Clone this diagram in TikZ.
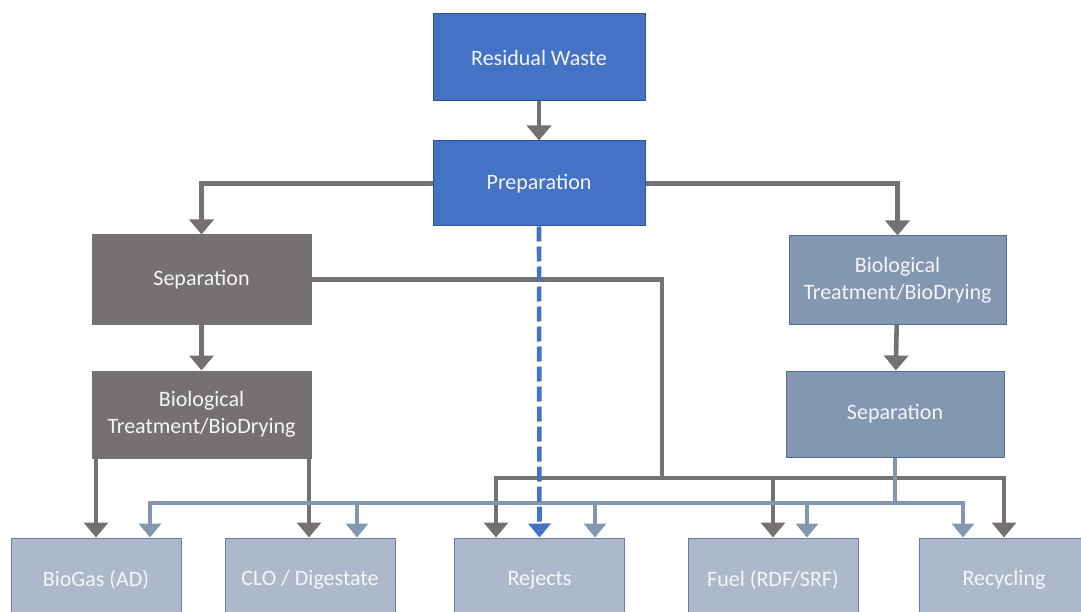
\documentclass[tikz,border=0pt]{standalone}
\usepackage{fontspec}
\setmainfont{Carlito}
\usetikzlibrary{arrows.meta,calc}
\definecolor{mainblue}{HTML}{4472C4}
\definecolor{edgeblue}{HTML}{2F528F}
\definecolor{stone}{HTML}{767171}
\definecolor{slate}{HTML}{8497B0}
\definecolor{mist}{HTML}{ADB9CA}
\definecolor{softwhite}{HTML}{F4F6FA}
\begin{document}
\begin{tikzpicture}[x=1pt,y=-1pt,
  box/.style={rectangle, inner sep=0pt, align=center, text=softwhite,
    font=\fontsize{22}{27}\selectfont, line width=1pt},
  stagebox/.style={box, fill=mainblue, draw=edgeblue},
  greybox/.style={box, fill=stone, draw=stone},
  slatebox/.style={box, fill=slate, draw=edgeblue!85},
  outbox/.style={box, fill=mist, draw=edgeblue!75, minimum width=170pt, minimum height=84pt},
  gline/.style={draw=stone, line width=4.6pt},
  garrow/.style={gline, -{Triangle[width=24pt,length=15pt]}},
  bline/.style={draw=slate, line width=4pt},
  barrow/.style={bline, -{Triangle[width=22pt,length=14pt]}},
  darrow/.style={draw=mainblue, line width=4.6pt, dash pattern=on 15pt off 5pt,
    -{Triangle[width=22pt,length=14pt]}}
]
\useasboundingbox (0,0) rectangle (1081,612);
\clip (0,0) rectangle (1081,612);

% process boxes
\node[stagebox, minimum width=212pt, minimum height=87pt] (rw)   at (539,57.5)  {Residual Waste};
\node[stagebox, minimum width=212pt, minimum height=85pt] (prep) at (539,183.5) {Preparation};
\node[greybox,  minimum width=219pt, minimum height=89pt] (sepL) at (201.5,279.5) {Separation};
\node[greybox,  minimum width=219pt, minimum height=87pt] (bioL) at (201.5,414.5) {Biological\\Treatment/BioDrying};
\node[slatebox, minimum width=217pt, minimum height=88pt] (bioR) at (897.5,280)  {Biological\\Treatment/BioDrying};
\node[slatebox, minimum width=218pt, minimum height=86pt] (sepR) at (895,414)    {Separation};

% output boxes along the bottom edge
\node[outbox] (biogas) at (96,580)    {BioGas (AD)};
\node[outbox] (clo)    at (310,580)   {CLO / Digestate};
\node[outbox] (rej)    at (539.5,580) {Rejects};
\node[outbox] (fuel)   at (773,580)   {Fuel (RDF/SRF)};
\node[outbox] (rec)    at (1004,580)  {Recycling};

% junction points of the collector bars
\coordinate (gbar) at (662,478);
\coordinate (bbar) at (sepR.south |- 0,503);

% grey flows
\draw[garrow] (rw) -- (prep);
\draw[garrow] (prep.west) -| (sepL.north);
\draw[garrow] (prep.east) -| (bioR.north);
\draw[garrow] (sepL) -- (bioL);
\draw[garrow] (bioR) -- (sepR);
\draw[gline]  (sepL.east) -| (gbar);
\draw[garrow] (gbar) -| ($(rej.north)+(-43.5,0)$);
\draw[garrow] (gbar) -| (fuel.north);
\draw[garrow] (gbar) -| (rec.north);
\draw[garrow] (bioL.south -| biogas.north) -- (biogas.north);
\draw[garrow] ($(bioL.south -| clo.north)+(-1,0)$) -- ($(clo.north)+(-1,0)$);

% slate flows from the right-hand separation
\draw[bline]  (sepR.south) -- (bbar);
\draw[barrow] (bbar) -| ($(biogas.north)+(54,0)$);
\draw[barrow] (bbar) -| ($(clo.north)+(47,0)$);
\draw[barrow] (bbar) -| ($(rej.north)+(55.5,0)$);
\draw[barrow] (bbar) -| ($(fuel.north)+(34,0)$);
\draw[barrow] (bbar) -| ($(rec.north)+(-41,0)$);

% direct route to rejects
\draw[darrow] (prep.south) -- (rej.north);
\end{tikzpicture}
\end{document}
